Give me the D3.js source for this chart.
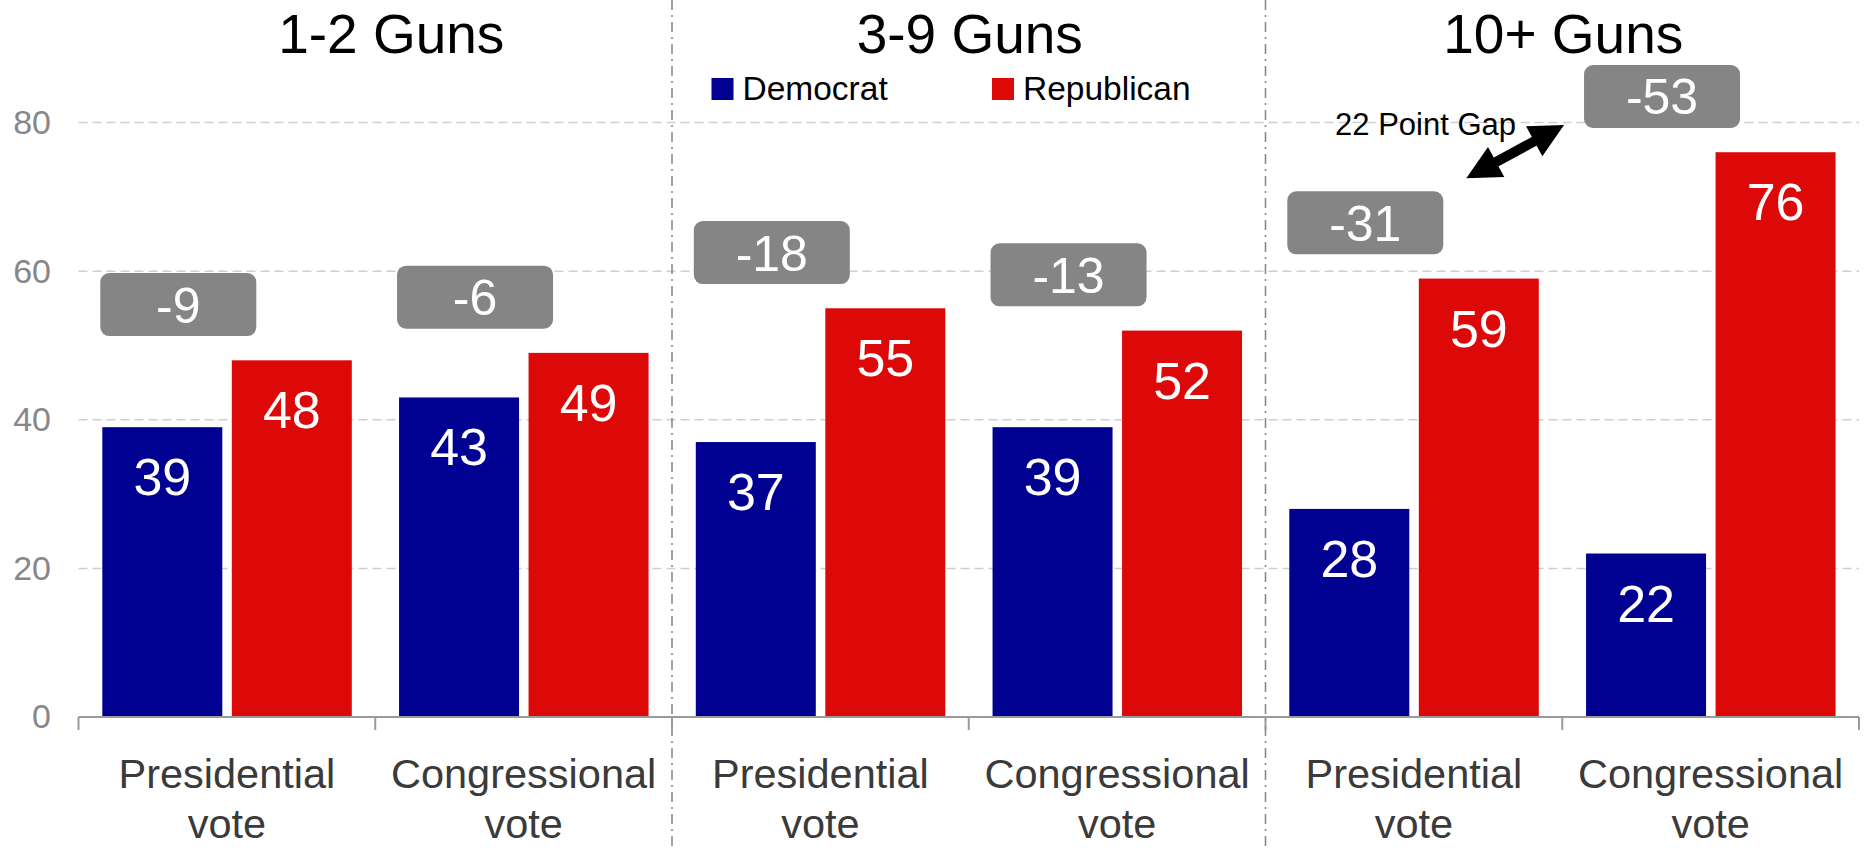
<!DOCTYPE html>
<html>
<head>
<meta charset="utf-8">
<script src="https://cdn.jsdelivr.net/npm/d3@7"></script>
<style>
  html, body { margin: 0; padding: 0; background: #fff; }
  svg { display: block; font-family: "Liberation Sans", Arial, sans-serif; }
</style>
</head>
<body>
<svg id="chart" width="1865" height="848"></svg>
<script>
// ---- data ----
const groups = ["1-2 Guns", "3-9 Guns", "10+ Guns"];
const votes = [["Presidential", "vote"], ["Congressional", "vote"]];
const democrat = [39, 43, 37, 39, 28, 22];
const republican = [48, 49, 55, 52, 59, 76];
const gapLabels = ["-9", "-6", "-18", "-13", "-31", "-53"];
const parties = ["Democrat", "Republican"];
const partyColors = ["#000091", "#dd0909"];
const yTicks = [0, 20, 40, 60, 80];
const gapNote = "22 Point Gap";

// ---- layout ----
const svg = d3.select("#chart");
const left = 78.5, right = 1859, bottom = 717, top80 = 122.5;
const cats = d3.range(groups.length * votes.length);

const x0 = d3.scaleBand().domain(cats).range([left, right]);
const x1 = d3.scaleBand().domain(parties).range([23.8, 273.3]).paddingInner(0.0734);
const y = d3.scaleLinear().domain([0, 80]).range([bottom, top80]);

// gridlines
svg.append("g").selectAll("line").data(yTicks.filter(d => d > 0)).join("line")
  .attr("x1", left).attr("x2", right)
  .attr("y1", d => y(d)).attr("y2", d => y(d))
  .attr("stroke", "#cfcfcf").attr("stroke-width", 1.5)
  .attr("stroke-dasharray", "9,5");

// y axis labels
const yAxis = svg.append("g").attr("transform", `translate(${left},0)`)
  .call(d3.axisLeft(y).tickValues(yTicks).tickSize(0).tickPadding(27.5));
yAxis.select(".domain").remove();
yAxis.selectAll("text").attr("fill", "#878787").style("font-size", "34px")
  .style("font-family", "'Liberation Sans', Arial, sans-serif");

// group separators
const sepXs = d3.range(1, groups.length).map(g => x0(g * votes.length));
svg.append("g").selectAll("line").data(sepXs).join("line")
  .attr("x1", d => d).attr("x2", d => d).attr("y1", 0).attr("y2", 848)
  .attr("stroke", "#8a8a8a").attr("stroke-width", 1.6)
  .attr("stroke-dasharray", "10,5,2,5");

// bars
const rows = cats.map(i => ({ i, vals: [democrat[i], republican[i]] }));
const catG = svg.append("g").selectAll("g").data(rows).join("g")
  .attr("transform", d => `translate(${x0(d.i)},0)`);

catG.selectAll("rect").data(d => d.vals.map((v, k) => ({ v, k }))).join("rect")
  .attr("x", d => x1(parties[d.k]))
  .attr("width", x1.bandwidth())
  .attr("y", d => y(d.v))
  .attr("height", d => y(0) - y(d.v))
  .attr("fill", d => partyColors[d.k]);

catG.selectAll("text.val").data(d => d.vals.map((v, k) => ({ v, k }))).join("text")
  .attr("class", "val")
  .attr("x", d => x1(parties[d.k]) + x1.bandwidth() / 2)
  .attr("y", d => y(d.v) + 68)
  .attr("text-anchor", "middle")
  .attr("fill", "#fff")
  .style("font-size", "52px")
  .text(d => d.v);

// gap boxes
const boxW = 156, boxH = 63;
const boxX = i => x0(i) + x1(parties[0]) - 2;
const boxCY = i => y(Math.max(democrat[i], republican[i]) + 7.5);
const boxes = svg.append("g").selectAll("g").data(cats).join("g");
boxes.append("rect")
  .attr("x", i => boxX(i)).attr("y", i => boxCY(i) - boxH / 2)
  .attr("width", boxW).attr("height", boxH).attr("rx", 9).attr("ry", 9)
  .attr("fill", "#858585");
boxes.append("text")
  .attr("x", i => boxX(i) + boxW / 2).attr("y", i => boxCY(i) + 18)
  .attr("text-anchor", "middle").attr("fill", "#fff")
  .style("font-size", "50px")
  .text(i => gapLabels[i]);

// x axis line and ticks
svg.append("line").attr("x1", left).attr("x2", right)
  .attr("y1", bottom).attr("y2", bottom)
  .attr("stroke", "#9a9a9a").attr("stroke-width", 2);
const tickXs = cats.map(i => x0(i)).concat([right]);
svg.append("g").selectAll("line").data(tickXs).join("line")
  .attr("x1", d => d).attr("x2", d => d)
  .attr("y1", bottom).attr("y2", bottom + 13)
  .attr("stroke", "#9a9a9a").attr("stroke-width", 2);

// x labels
const xl = svg.append("g").selectAll("text").data(cats).join("text")
  .attr("text-anchor", "middle").attr("fill", "#3a3a3a")
  .style("font-size", "41.5px");
xl.selectAll("tspan").data(i => votes[i % votes.length].map(t => ({ t, i }))).join("tspan")
  .attr("x", d => x0(d.i) + x0.bandwidth() / 2)
  .attr("y", (d, k) => 788 + k * 50)
  .text(d => d.t);

// group titles
svg.append("g").selectAll("text").data(groups).join("text")
  .attr("x", (g, gi) => {
    const a = x0(gi * votes.length), b = x0((gi + 1) * votes.length - 1) + x0.bandwidth();
    return (a + b) / 2 + (gi === 0 ? 16 : 1);
  })
  .attr("y", 53)
  .attr("text-anchor", "middle").attr("fill", "#000")
  .style("font-size", "55px")
  .text(d => d);

// legend
const legX = [711.5, 992];
const leg = svg.append("g").selectAll("g").data(parties).join("g")
  .attr("transform", (d, k) => `translate(${legX[k]},0)`);
leg.append("rect").attr("x", 0).attr("y", 78).attr("width", 22).attr("height", 22)
  .attr("fill", (d, k) => partyColors[k]);
leg.append("text").attr("x", 31).attr("y", 99.5).attr("fill", "#000")
  .style("font-size", "33.5px").text(d => d);

// annotation: 22 point gap double arrow
const iA = 4, iB = 5;
const p1 = [boxX(iA) + boxW + 23, boxCY(iA) - boxH / 2 - 13];
const p2 = [boxX(iB) - 20, boxCY(iB) + boxH / 2 - 3];
const dx = p2[0] - p1[0], dy = p2[1] - p1[1], L = Math.hypot(dx, dy);
const ux = dx / L, uy = dy / L, nx = -uy, ny = ux;
const headLen = 34, headHalf = 17;
svg.append("line")
  .attr("x1", p1[0] + ux * (headLen - 4)).attr("y1", p1[1] + uy * (headLen - 4))
  .attr("x2", p2[0] - ux * (headLen - 4)).attr("y2", p2[1] - uy * (headLen - 4))
  .attr("stroke", "#000").attr("stroke-width", 10);
const head = (tip, dir) => {
  const bx = tip[0] + dir * ux * headLen, by = tip[1] + dir * uy * headLen;
  return `M${tip[0]},${tip[1]} L${bx + nx * headHalf},${by + ny * headHalf} L${bx - nx * headHalf},${by - ny * headHalf} Z`;
};
svg.append("path").attr("d", head(p1, 1)).attr("fill", "#000");
svg.append("path").attr("d", head(p2, -1)).attr("fill", "#000");
svg.append("text")
  .attr("x", boxX(iB) - 68).attr("y", 135)
  .attr("text-anchor", "end").attr("fill", "#000")
  .style("font-size", "31px")
  .text(gapNote);
</script>
</body>
</html>
